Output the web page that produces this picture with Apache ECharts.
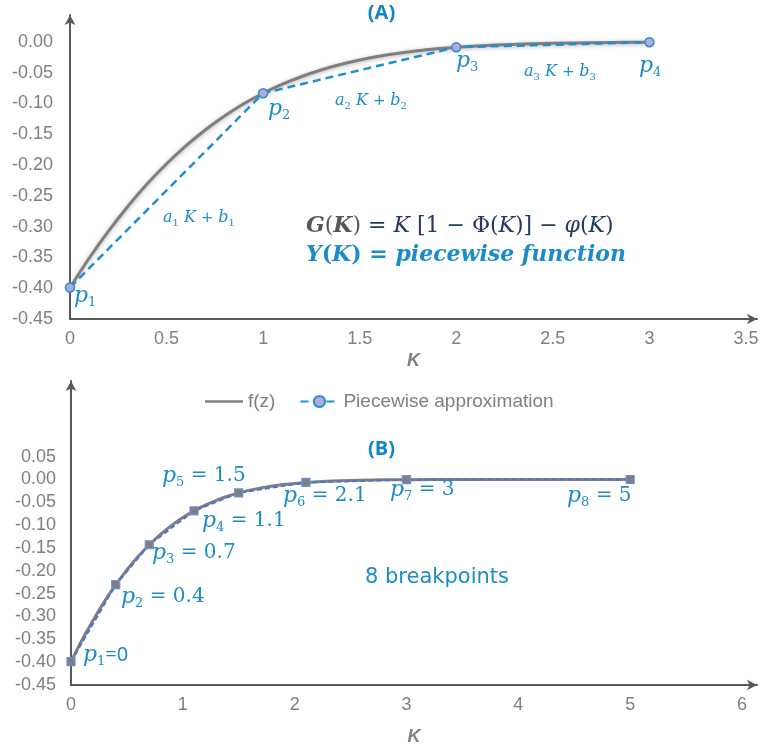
<!DOCTYPE html>
<html>
<head>
<meta charset="utf-8">
<script src="https://cdn.jsdelivr.net/npm/echarts@6/dist/echarts.min.js"></script>
<style>
html,body{margin:0;padding:0;background:#fff;}
#chart{width:763px;height:751px;}
</style>
</head>
<body>
<div id="chart"></div>
<script>
// ---- data ----
const curveK = [0,0.1,0.2,0.3,0.4,0.5,0.6,0.7,0.8,0.9,1.0,1.1,1.2,1.3,1.4,1.5,1.6,1.7,1.8,1.9,2.0,2.2,2.4,2.6,2.8,3.0,3.5,4.0,4.5,5.0];
const curveG = [-0.3989,-0.3509,-0.3069,-0.2668,-0.2304,-0.1978,-0.1687,-0.1429,-0.1202,-0.1004,-0.0833,-0.0686,-0.0561,-0.0455,-0.0367,-0.0293,-0.0232,-0.0183,-0.0143,-0.0111,-0.0085,-0.0049,-0.0027,-0.0015,-0.0008,-0.0004,-0.0001,0,0,0];
const curveEndA = 3.0;

const pieceK_A = [0, 1, 2, 3];
const pieceY_A = [-0.3989, -0.0833, -0.0085, -0.0004];

const pieceK_B = [0, 0.4, 0.7, 1.1, 1.5, 2.1, 3, 5];
const pieceY_B = [-0.3989, -0.2304, -0.1429, -0.0686, -0.0293, -0.0065, -0.0004, 0];

const yLabelsA = ['-0.45','-0.40','-0.35','-0.30','-0.25','-0.20','-0.15','-0.10','-0.05','0.00'];
const yLabelsB = ['-0.45','-0.40','-0.35','-0.30','-0.25','-0.20','-0.15','-0.10','-0.05','0.00','0.05'];
const xLabelsA = ['0','0.5','1','1.5','2','2.5','3','3.5'];
const xLabelsB = ['0','1','2','3','4','5','6'];

const seriesNames = ['f(z)', 'Piecewise approximation'];
const titles = ['(A)', '(B)'];
const axisName = 'K';

const pLabelsA = ['1','2','3','4'];
const pLabelsB = [['1','=0'],['2',' = 0.4'],['3',' = 0.7'],['4',' = 1.1'],['5',' = 1.5'],['6',' = 2.1'],['7',' = 3'],['8',' = 5']];
const segLabelsA = ['1','2','3'];
const breakpointText = '8 breakpoints';

// ---- chart ----
const chart = echarts.init(document.getElementById('chart'), null, {renderer: 'canvas'});

const GRAY = '#595959';
const LABEL = '#7f7f7f';
const BLUE = '#1a8cc8';
const NAVY = '#243a60';
const AXFONT = 'Liberation Sans';

function fmtY(list) {
  return function (v) {
    if (Math.abs(v) < 1e-9) v = 0;
    const s = v.toFixed(2);
    return list.indexOf(s) >= 0 ? s : '';
  };
}
function fmtX(list) {
  return function (v) {
    const s = String(Math.round(v * 1000) / 1000);
    return list.indexOf(s) >= 0 ? s : '';
  };
}
function axisLineCfg() {
  return {show: true, onZero: false, symbol: ['none', 'arrow'], symbolSize: [8, 10],
          lineStyle: {color: GRAY, width: 2}};
}

const curveA = [], curveB = [];
curveK.forEach((k, i) => {
  if (k <= curveEndA + 1e-9) curveA.push([k, curveG[i]]);
  curveB.push([k, curveG[i]]);
});
const pwA = pieceK_A.map((k, i) => [k, pieceY_A[i]]);
const pwB = pieceK_B.map((k, i) => [k, pieceY_B[i]]);

const option = {
  backgroundColor: '#ffffff',
  animation: false,
  title: [
    {text: titles[0], left: 'center', top: 3, padding: 0,
     textStyle: {color: '#0e86c8', fontWeight: 'bold', fontSize: 20, fontFamily: 'Open Sans'}},
    {text: titles[1], left: 'center', top: 439, padding: 0,
     textStyle: {color: '#0e86c8', fontWeight: 'bold', fontSize: 20, fontFamily: 'Open Sans'}}
  ],
  legend: {
    data: [{name: seriesNames[0], icon: 'path://M0,0L38,0L38,2.5L0,2.5Z'}, {name: seriesNames[1]}],
    left: 200, top: 387,
    itemWidth: 38, itemHeight: 14, itemGap: 24,
    textStyle: {color: LABEL, fontSize: 19, fontFamily: AXFONT}
  },
  grid: [
    {left: 70, right: 6, top: 15, bottom: 432, outerBoundsMode: 'none', containLabel: false},
    {left: 71, right: 6, top: 381, bottom: 66, outerBoundsMode: 'none', containLabel: false}
  ],
  xAxis: [
    {type: 'value', gridIndex: 0, min: 0, max: 3.557, interval: 0.5,
     axisLine: axisLineCfg(), axisTick: {show: false}, splitLine: {show: false},
     axisLabel: {formatter: fmtX(xLabelsA), color: LABEL, fontSize: 18, fontFamily: AXFONT, margin: 11, showMaxLabel: false},
     name: axisName, nameLocation: 'middle', nameGap: 33,
     nameTextStyle: {color: LABEL, fontWeight: 'bold', fontStyle: 'italic', fontSize: 18, fontFamily: 'Liberation Sans'}},
    {type: 'value', gridIndex: 1, min: 0, max: 6.134, interval: 1,
     axisLine: axisLineCfg(), axisTick: {show: false}, splitLine: {show: false},
     axisLabel: {formatter: fmtX(xLabelsB), color: LABEL, fontSize: 18, fontFamily: AXFONT, margin: 11, showMaxLabel: false},
     name: axisName, nameLocation: 'middle', nameGap: 43,
     nameTextStyle: {color: LABEL, fontWeight: 'bold', fontStyle: 'italic', fontSize: 18, fontFamily: 'Liberation Sans'}}
  ],
  yAxis: [
    {type: 'value', gridIndex: 0, min: -0.45, max: 0.0438, interval: 0.05,
     axisLine: axisLineCfg(), axisTick: {show: false}, splitLine: {show: false},
     axisLabel: {formatter: fmtY(yLabelsA), color: LABEL, fontSize: 18, fontFamily: AXFONT, margin: 17}},
    {type: 'value', gridIndex: 1, min: -0.45, max: 0.2157, interval: 0.05,
     axisLine: axisLineCfg(), axisTick: {show: false}, splitLine: {show: false},
     axisLabel: {formatter: fmtY(yLabelsB), color: LABEL, fontSize: 18, fontFamily: AXFONT, margin: 15}}
  ],
  series: [
    {name: seriesNames[0], type: 'line', xAxisIndex: 0, yAxisIndex: 0, data: curveA,
     showSymbol: false, symbol: 'none', smooth: 0.3,
     itemStyle: {color: '#7f7f7f'},
     lineStyle: {color: '#7f7f7f', width: 3, shadowBlur: 4, shadowColor: 'rgba(0,0,0,0.3)', shadowOffsetY: 1}},
    {name: seriesNames[1], type: 'line', xAxisIndex: 0, yAxisIndex: 0, data: pwA,
     symbol: 'circle', symbolSize: 9,
     itemStyle: {color: '#b4a9dc', borderColor: '#2a8fd0', borderWidth: 1.5},
     lineStyle: {color: '#1f8fd0', width: 2.5, type: [8, 5]}},
    {name: seriesNames[0], type: 'line', xAxisIndex: 1, yAxisIndex: 1, data: curveB,
     showSymbol: false, symbol: 'none', smooth: 0.3,
     itemStyle: {color: '#7f7f7f'},
     lineStyle: {color: '#7f7f7f', width: 3}},
    {name: seriesNames[1], type: 'line', xAxisIndex: 1, yAxisIndex: 1, data: pwB,
     symbol: 'rect', symbolSize: 8,
     itemStyle: {color: '#7f7f7f', borderColor: '#6d8fe0', borderWidth: 1.2},
     lineStyle: {color: '#4a74d4', width: 2, type: [5, 3]}}
  ]
};
chart.setOption(option);

// ---- annotations ----
const SERIF = 'DejaVu Serif';
function st(o) { o.fill = o.fill || BLUE; return o; }
const mathRich = {
  i: st({fontFamily: SERIF, fontStyle: 'italic', fontSize: 22, lineHeight: 26}),
  s: st({fontFamily: SERIF, fontSize: 13, lineHeight: 14, verticalAlign: 'bottom'}),
  n: st({fontFamily: SERIF, fontSize: 20, lineHeight: 26}),
  e: st({fontFamily: 'Noto Sans', fontSize: 20, lineHeight: 26}),
  si: st({fontFamily: SERIF, fontStyle: 'italic', fontSize: 16, lineHeight: 20}),
  ss: st({fontFamily: SERIF, fontSize: 10, lineHeight: 10, verticalAlign: 'bottom'}),
  sn: st({fontFamily: SERIF, fontSize: 15, lineHeight: 20}),
  gb: st({fontFamily: SERIF, fontStyle: 'italic', fontWeight: 'bold', fontSize: 22, lineHeight: 28, fill: '#555555'}),
  gp: st({fontFamily: SERIF, fontSize: 22, lineHeight: 28, fill: '#555555'}),
  ni: st({fontFamily: SERIF, fontStyle: 'italic', fontSize: 22, lineHeight: 28, fill: NAVY}),
  nn: st({fontFamily: SERIF, fontSize: 22, lineHeight: 28, fill: NAVY}),
  yb: st({fontFamily: SERIF, fontStyle: 'italic', fontWeight: 'bold', fontSize: 22, lineHeight: 28}),
  yn: st({fontFamily: SERIF, fontWeight: 'bold', fontSize: 22, lineHeight: 28})
};
function txt(x, y, text) {
  return {type: 'text', x: x, y: y, z: 100,
          style: {text: text, rich: mathRich, fill: BLUE, verticalAlign: 'middle', align: 'left'}};
}
function pLab(sub, rest) {
  const eq = rest === '=0' ? '{e|' + rest + '}' : (rest ? '{n|' + rest + '}' : '');
  return '{i|p}{s|' + sub + '}' + eq;
}
function segLab(j) {
  return '{si|a}{ss|' + j + '}{si| K }{sn|+ }{si|b}{ss|' + j + '}';
}

const posA = [[74, 296], [268, 109], [456, 61], [639, 66]];
const posSeg = [[163, 218], [335, 101], [524, 72]];
const posB = [[83, 655], [121, 597], [152, 553], [202, 521], [162, 476], [283, 496], [390, 490], [567, 496]];

const g = [];
pLabelsA.forEach((s, i) => g.push(txt(posA[i][0], posA[i][1], pLab(s, ''))));
segLabelsA.forEach((s, i) => g.push(txt(posSeg[i][0], posSeg[i][1], segLab(s))));
g.push(txt(306, 226, '{gb|G}{gp|(}{gb|K}{gp|)}{nn| = }{ni|K}{nn| [1 − Φ(}{ni|K}{nn|)] − }{ni|φ}{nn|(}{ni|K}{nn|)}'));
g.push(txt(306, 255, '{yb|Y}{yn|(}{yb|K}{yn|) = }{yb|piecewise function}'));
pLabelsB.forEach((p, i) => g.push(txt(posB[i][0], posB[i][1], pLab(p[0], p[1]))));
g.push({type: 'text', x: 365, y: 578, z: 100,
        style: {text: breakpointText, fill: BLUE, fontSize: 21, fontFamily: 'DejaVu Sans', verticalAlign: 'middle'}});

chart.setOption({graphic: g});
</script>
</body>
</html>
